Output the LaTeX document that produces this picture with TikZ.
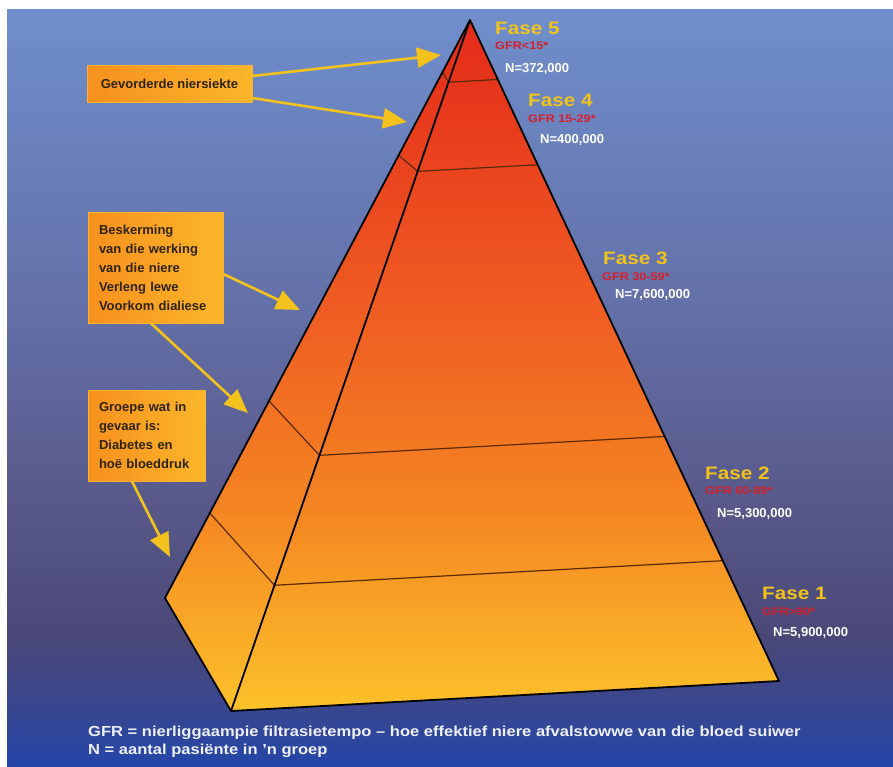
\documentclass[tikz,border=0pt]{standalone}
\usepackage{fontspec}
\setmainfont{Liberation Sans}
\newfontfamily\widefont[FakeStretch=1.15]{Liberation Sans}
\newfontfamily\notefont[FakeStretch=1.14]{Liberation Sans}
\usetikzlibrary{arrows.meta,calc}

\definecolor{skytop}{HTML}{6F8FCC}
\definecolor{skyhigh}{HTML}{6470A8}
\definecolor{skymid}{HTML}{58598A}
\definecolor{skydusk}{HTML}{4A4878}
\definecolor{skylow}{HTML}{39468E}
\definecolor{skybot}{HTML}{2446A8}
\definecolor{pyrtop}{HTML}{E42A1A}
\definecolor{pyrhigh}{HTML}{EF5A22}
\definecolor{pyrmid}{HTML}{F48422}
\definecolor{pyrbot}{HTML}{FCC22A}
\definecolor{boxorange}{HTML}{F7901E}
\definecolor{boxgold}{HTML}{FBB62A}
\definecolor{boxrim}{HTML}{F9B233}
\definecolor{boxink}{HTML}{2E2410}
\definecolor{arrowyellow}{HTML}{F4C21C}
\definecolor{faseyellow}{HTML}{F2C31A}
\definecolor{gfrred}{HTML}{D4202A}
\definecolor{notewhite}{HTML}{EEF0F6}
\definecolor{bandink}{HTML}{5A2A0A}

% stops between 25bp and 75bp: that part is fitted to the path
\pgfdeclareverticalshading{skyshade}{100bp}{color(0bp)=(skybot); color(25bp)=(skybot); color(29bp)=(skylow); color(33.5bp)=(skydusk); color(42.5bp)=(skymid); color(55.5bp)=(skyhigh); color(75bp)=(skytop); color(100bp)=(skytop)}
\pgfdeclareverticalshading{pyrshade}{100bp}{color(0bp)=(pyrbot); color(25bp)=(pyrbot); color(40bp)=(pyrmid); color(55bp)=(pyrhigh); color(75bp)=(pyrtop); color(100bp)=(pyrtop)}

\tikzset{
  infobox/.style={draw=boxrim, line width=0.6pt, left color=boxorange, right color=boxgold,
    text=boxink, font=\fontsize{13}{19}\selectfont\bfseries, align=left, inner xsep=11pt, inner ysep=4pt},
  pointer/.style={draw=arrowyellow, line width=2.6pt, -{Triangle[length=24pt,width=20pt,fill=arrowyellow]}},
  edge/.style={draw=black, line width=1.8pt, line join=round},
  bandline/.style={draw=bandink, line width=1.2pt},
  fasetitle/.style={text=faseyellow, font=\widefont\fontsize{18}{18}\selectfont\bfseries, inner sep=0pt, anchor=west},
  gfrtext/.style={text=gfrred, font=\widefont\fontsize{11}{11}\selectfont\bfseries, inner sep=0pt, anchor=west},
  counttext/.style={text=white, font=\fontsize{13}{13}\selectfont\bfseries, inner sep=0pt, anchor=west},
  notetext/.style={text=notewhite, font=\notefont\fontsize{14.5}{14.5}\selectfont\bfseries, inner sep=0pt, anchor=west}
}

\begin{document}
\begin{tikzpicture}[x=1pt,y=-1pt]
\useasboundingbox (0,0) rectangle (893,766);
\fill[white] (0,0) rectangle (893,766);
\shade[shading=skyshade] (7,9) rectangle (893,766);

% pyramid corners
\coordinate (apex) at (470,20);
\coordinate (lv) at (165,598);
\coordinate (fl) at (231,711);
\coordinate (br) at (779,681);

\shade[shading=pyrshade] (apex) -- (lv) -- (fl) -- cycle;
\shade[shading=pyrshade] (apex) -- (fl) -- (br) -- cycle;

% stage borders
\foreach \tl/\tf in {0.853/0.818, 0.659/0.630, 0.234/0.219, 0.090/0.090}
  \draw[bandline] ($(apex)!\tl!(lv)$) -- ($(apex)!\tf!(fl)$) -- ($(apex)!\tf!(br)$);

\draw[edge] (apex) -- (lv) -- (fl) -- (br) -- cycle;
\draw[edge] (apex) -- (fl);

% stage labels
\node[fasetitle] (f5) at (495,28) {Fase 5};
\node[gfrtext] (g5) at (495,46) {GFR<15*};
\node[counttext] (n5) at (505,69) {N=372,000};
\node[fasetitle] (f4) at (528,100) {Fase 4};
\node[gfrtext] (g4) at (528,119) {GFR 15-29*};
\node[counttext] (n4) at (540,140) {N=400,000};
\node[fasetitle] (f3) at (603,258) {Fase 3};
\node[gfrtext] (g3) at (602,277) {GFR 30-59*};
\node[counttext] (n3) at (615,295) {N=7,600,000};
\node[fasetitle] (f2) at (705,473) {Fase 2};
\node[gfrtext] (g2) at (705,491) {GFR 60-89*};
\node[counttext] (n2) at (717,514) {N=5,300,000};
\node[fasetitle] (f1) at (762,593) {Fase 1};
\node[gfrtext] (g1) at (762,612) {GFR>90*};
\node[counttext] (n1) at (773,633) {N=5,900,000};

% call-outs
\node[infobox, minimum width=165pt, minimum height=37pt] (advanced) at (169.5,83.5) {Gevorderde niersiekte};
\node[infobox, text width=113pt, minimum height=111pt] (protect) at (155.5,267.5)
  {Beskerming\\van die werking\\van die niere\\Verleng lewe\\Voorkom dialiese};
\node[infobox, text width=95pt, minimum height=91pt] (risk) at (146.5,435.5)
  {Groepe wat in\\gevaar is:\\Diabetes en\\hoë bloeddruk};

\coordinate (tip5) at (441,55);
\coordinate (tip4) at (407,122);
\coordinate (tip3) at (300,310);
\coordinate (tip2) at (248,413);
\coordinate (tip1) at (170,557);

\draw[pointer] ([yshift=7.5pt]advanced.east) -- (tip5);
\draw[pointer] ([yshift=-14.5pt]advanced.east) -- (tip4);
\draw[pointer] ([yshift=-6.5pt]protect.east) -- (tip3);
\draw[pointer] ([xshift=-4.5pt]protect.south) -- (tip2);
\draw[pointer] ([xshift=-14.5pt]risk.south) -- (tip1);

% legend
\node[notetext] (gfrnote) at (88,733) {GFR = nierliggaampie filtrasietempo – hoe effektief niere afvalstowwe van die bloed suiwer};
\node[notetext] (nnote) at (88,751) {N = aantal pasiënte in ’n groep};
\end{tikzpicture}
\end{document}
